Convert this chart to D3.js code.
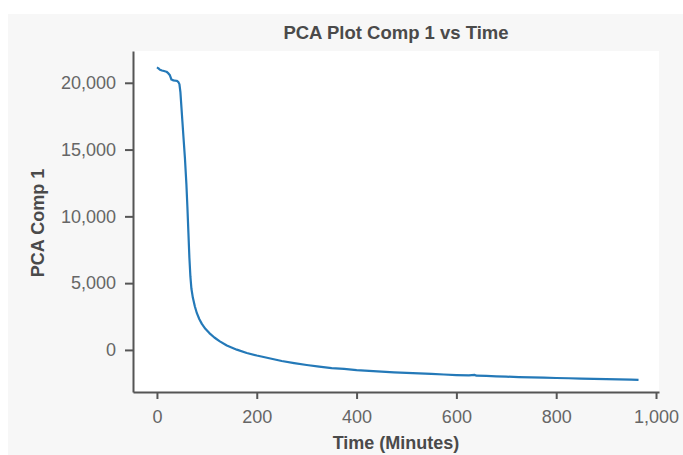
<!DOCTYPE html>
<html>
<head>
<meta charset="utf-8">
<script src="https://cdn.jsdelivr.net/npm/d3@7"></script>
<style>
  body { margin: 0; background: #fff; }
  .axis text { font-family: "Liberation Sans", Arial, sans-serif; font-size: 18px; fill: #666; }
  .axis path, .axis line { stroke: #555; stroke-width: 2; }
</style>
</head>
<body>
<div id="chart"></div>
<script>
var times = [0, 3, 6, 10, 14, 19, 23, 26, 29, 33, 37, 40, 43, 45, 47, 49, 51, 53, 56, 59,
    61, 63, 65, 67, 69, 72, 76, 80, 85, 90, 97, 105, 115, 126, 140, 160, 180, 200, 225, 250,
    275, 300, 325, 350, 375, 400, 425, 450, 475, 500, 525, 550, 575, 600, 625, 637, 640, 660, 680, 700,
    725, 750, 775, 800, 825, 850, 875, 900, 925, 950, 965];

var comp1 = [21150, 21080, 20980, 20920, 20880, 20830, 20700, 20560, 20240, 20180, 20160, 20150, 20050, 19900, 19300, 18200, 17100, 16000, 14400, 12400,
    10700, 8800, 6900, 5500, 4600, 3900, 3250, 2750, 2300, 1950, 1580, 1260, 930, 640, 330, 20, -230, -420, -620, -830,
    -990, -1130, -1250, -1360, -1420, -1510, -1570, -1620, -1680, -1720, -1760, -1800, -1840, -1880, -1910, -1870, -1930, -1950, -1980, -2000,
    -2040, -2060, -2080, -2100, -2120, -2150, -2160, -2180, -2200, -2220, -2240];

var xTicks = [0, 200, 400, 600, 800, 1000];
var yTicks = [0, 5000, 10000, 15000, 20000];

var W = 683, H = 455;
var margin = {top: 51, right: 24, bottom: 63, left: 133},
    width = W - margin.left - margin.right,
    height = H - margin.top - margin.bottom;

var svg = d3.select("#chart").append("svg")
    .attr("width", W)
    .attr("height", H);

// panel + plot background
svg.append("rect")
    .attr("x", 8).attr("y", 14)
    .attr("width", W - 8).attr("height", H - 14)
    .attr("fill", "#f7f7f7");

var g = svg.append("g")
    .attr("transform", "translate(" + margin.left + "," + margin.top + ")");

g.append("rect")
    .attr("width", width).attr("height", height)
    .attr("fill", "#fff");

var x = d3.scaleLinear()
    .domain([-48, 1006])
    .range([0, width]);

var y = d3.scaleLinear()
    .domain([-3150, 22380])
    .range([height, 0]);

var fmt = d3.format(",");

g.append("g")
    .attr("class", "x axis")
    .attr("transform", "translate(0," + height + ")")
    .call(d3.axisBottom(x).tickValues(xTicks).tickFormat(fmt).tickSizeInner(7).tickSizeOuter(0).tickPadding(11));

g.append("g")
    .attr("class", "y axis")
    .call(d3.axisLeft(y).tickValues(yTicks).tickFormat(fmt).tickSizeInner(8).tickSizeOuter(0).tickPadding(9));

var line = d3.line()
    .x(function(d, i) { return x(times[i]); })
    .y(function(d) { return y(d); });

g.append("path")
    .datum(comp1)
    .attr("fill", "none")
    .attr("stroke", "#2479b8")
    .attr("stroke-width", 2.2)
    .attr("stroke-linejoin", "round")
    .attr("d", line);

// titles
svg.append("text")
    .attr("x", 396)
    .attr("y", 39)
    .attr("text-anchor", "middle")
    .style("font-family", "Liberation Sans, Arial, sans-serif")
    .style("font-weight", "bold")
    .style("font-size", "18.5px")
    .style("fill", "#4a4a4a")
    .text("PCA Plot Comp 1 vs Time");

svg.append("text")
    .attr("x", 396)
    .attr("y", 449)
    .attr("text-anchor", "middle")
    .style("font-family", "Liberation Sans, Arial, sans-serif")
    .style("font-weight", "bold")
    .style("font-size", "18px")
    .style("fill", "#4a4a4a")
    .text("Time (Minutes)");

svg.append("text")
    .attr("transform", "translate(43.5,223) rotate(-90)")
    .attr("text-anchor", "middle")
    .style("font-family", "Liberation Sans, Arial, sans-serif")
    .style("font-weight", "bold")
    .style("font-size", "18px")
    .style("fill", "#4a4a4a")
    .text("PCA Comp 1");
</script>
</body>
</html>
